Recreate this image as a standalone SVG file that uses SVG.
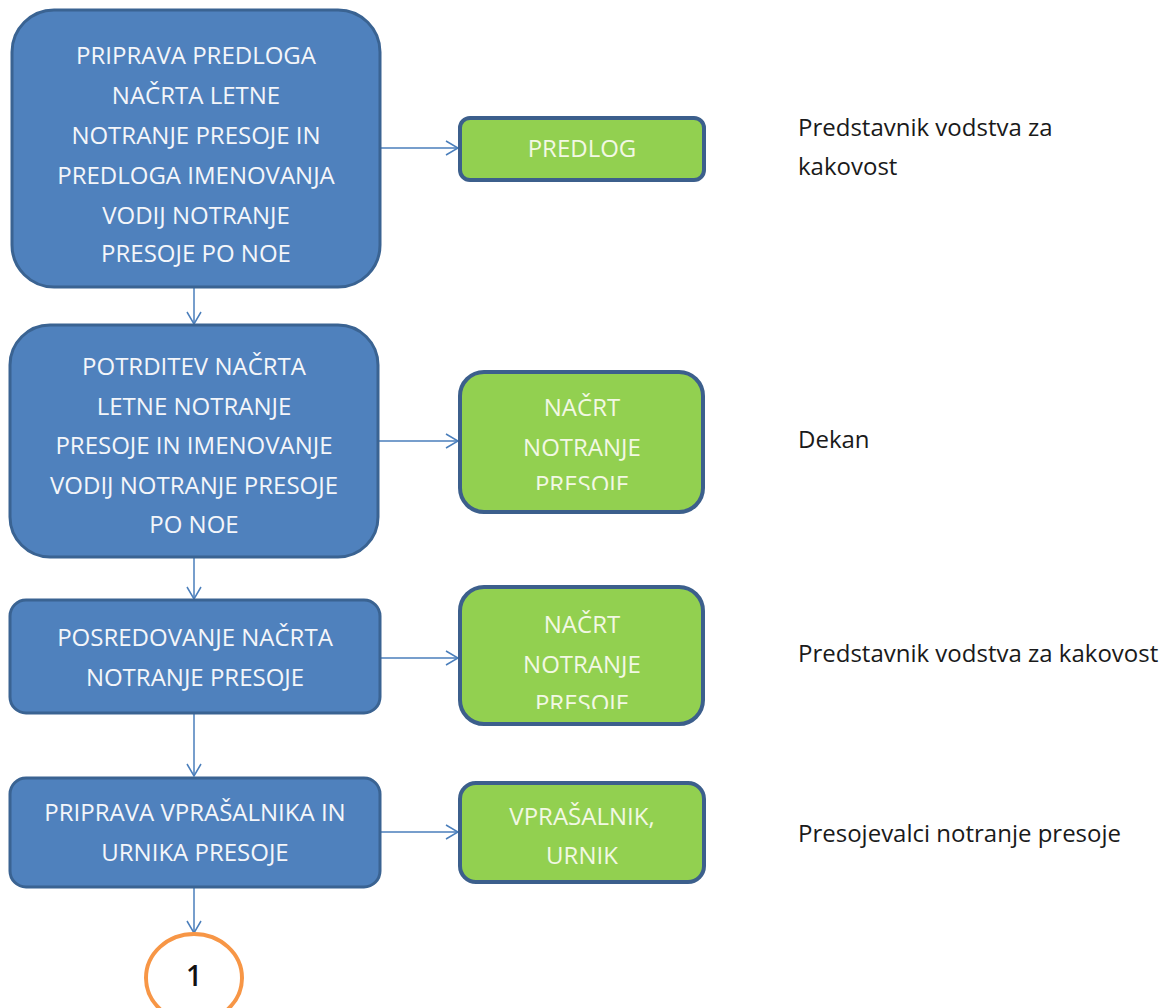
<svg xmlns="http://www.w3.org/2000/svg" width="1167" height="1008" viewBox="0 0 1167 1008">
<style>
.step{fill:#4F81BD;stroke:#3A6392;stroke-width:3}
.out{fill:#92D050;stroke:#3C5F8C;stroke-width:4}
.st{font-family:"Open Sans","Liberation Sans",sans-serif;font-size:24px;fill:#F4F6FA;text-anchor:middle}
.ot{font-family:"Open Sans","Liberation Sans",sans-serif;font-size:24px;fill:#F2F8E4;text-anchor:middle}
.lbl{font-family:"Open Sans","Liberation Sans",sans-serif;font-size:24px;fill:#1A1A1A}
.con{stroke:#4A7EBB;stroke-width:1.5;fill:none}
</style>
<defs>
<marker id="ah" viewBox="0 0 14 16" refX="13" refY="8" markerWidth="14" markerHeight="16" markerUnits="userSpaceOnUse" orient="auto">
<path d="M1,1 L13,8 L1,15" fill="none" stroke="#4A7EBB" stroke-width="1.5"/>
</marker>
<clipPath id="c2"><rect x="460" y="372" width="243" height="118"/></clipPath>
<clipPath id="c3"><rect x="460" y="587" width="243" height="122"/></clipPath>
</defs>
<rect width="1167" height="1008" fill="#FFFFFF"/>
<g id="connectors">
<line class="con" x1="380" y1="148" x2="458" y2="148" marker-end="url(#ah)"/>
<line class="con" x1="194" y1="287" x2="194" y2="324" marker-end="url(#ah)"/>
<line class="con" x1="378" y1="441" x2="458" y2="441" marker-end="url(#ah)"/>
<line class="con" x1="194" y1="557" x2="194" y2="599" marker-end="url(#ah)"/>
<line class="con" x1="380" y1="658" x2="458" y2="658" marker-end="url(#ah)"/>
<line class="con" x1="194" y1="713" x2="194" y2="776" marker-end="url(#ah)"/>
<line class="con" x1="380" y1="832" x2="458" y2="832" marker-end="url(#ah)"/>
<line class="con" x1="194" y1="887" x2="194" y2="933" marker-end="url(#ah)"/>
</g>
<g id="step1">
<rect class="step" x="12" y="10" width="368" height="277" rx="42"/>
<text class="st" x="196" y="64">PRIPRAVA PREDLOGA</text>
<text class="st" x="196" y="104">NAČRTA LETNE</text>
<text class="st" x="196" y="144">NOTRANJE PRESOJE IN</text>
<text class="st" x="196" y="184">PREDLOGA IMENOVANJA</text>
<text class="st" x="196" y="224">VODIJ NOTRANJE</text>
<text class="st" x="196" y="262">PRESOJE PO NOE</text>
</g>
<g id="out1">
<rect class="out" x="460" y="118" width="244" height="62" rx="10"/>
<text class="ot" x="582" y="157">PREDLOG</text>
</g>
<g id="step2">
<rect class="step" x="10" y="325" width="368" height="232" rx="40"/>
<text class="st" x="194" y="375">POTRDITEV NAČRTA</text>
<text class="st" x="194" y="415">LETNE NOTRANJE</text>
<text class="st" x="194" y="454">PRESOJE IN IMENOVANJE</text>
<text class="st" x="194" y="494">VODIJ NOTRANJE PRESOJE</text>
<text class="st" x="194" y="533">PO NOE</text>
</g>
<g id="out2">
<rect class="out" x="460" y="372" width="243" height="140" rx="24"/>
<g clip-path="url(#c2)">
<text class="ot" x="582" y="416">NAČRT</text>
<text class="ot" x="582" y="456">NOTRANJE</text>
<text class="ot" x="582" y="493">PRESOJE</text>
</g>
</g>
<g id="step3">
<rect class="step" x="10" y="600" width="370" height="113" rx="16"/>
<text class="st" x="195" y="646">POSREDOVANJE NAČRTA</text>
<text class="st" x="195" y="686">NOTRANJE PRESOJE</text>
</g>
<g id="out3">
<rect class="out" x="460" y="587" width="243" height="137" rx="24"/>
<g clip-path="url(#c3)">
<text class="ot" x="582" y="633">NAČRT</text>
<text class="ot" x="582" y="673">NOTRANJE</text>
<text class="ot" x="582" y="712">PRESOJE</text>
</g>
</g>
<g id="step4">
<rect class="step" x="10" y="778" width="370" height="109" rx="16"/>
<text class="st" x="195" y="821">PRIPRAVA VPRAŠALNIKA IN</text>
<text class="st" x="195" y="861">URNIKA PRESOJE</text>
</g>
<g id="out4">
<rect class="out" x="460" y="783" width="244" height="99" rx="16"/>
<text class="ot" x="582" y="825">VPRAŠALNIK,</text>
<text class="ot" x="582" y="864">URNIK</text>
</g>
<g id="connector1">
<ellipse cx="194" cy="978" rx="48" ry="44" fill="#FFFFFF" stroke="#F79646" stroke-width="4"/>
<text x="194" y="986" font-family="'Open Sans','Liberation Sans',sans-serif" font-size="28" font-weight="600" fill="#111111" text-anchor="middle">1</text>
</g>
<g id="labels">
<text class="lbl" x="798" y="136">Predstavnik vodstva za</text>
<text class="lbl" x="798" y="175">kakovost</text>
<text class="lbl" x="798" y="448">Dekan</text>
<text class="lbl" x="798" y="662">Predstavnik vodstva za kakovost</text>
<text class="lbl" x="798" y="842">Presojevalci notranje presoje</text>
</g>
</svg>
